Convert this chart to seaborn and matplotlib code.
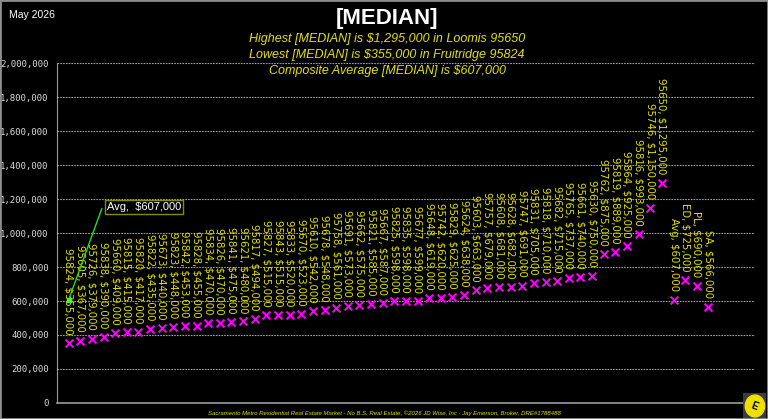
import matplotlib
matplotlib.use('Agg')
import matplotlib.pyplot as plt
import seaborn as sns
import pandas as pd
from matplotlib.patches import Rectangle, Circle

# data
zips = ['95824', '95605', '95726', '95838', '95660', '95815', '95820', '95822', '95673', '95823',
        '95842', '95828', '95834', '95826', '95841', '95621', '95817', '95827', '95843', '95833',
        '95670', '95610', '95678', '95758', '95691', '95662', '95821', '95667', '95825', '95835',
        '95677', '95648', '95742', '95829', '95624', '95603', '95757', '95608', '95628', '95747',
        '95831', '95818', '95682', '95765', '95661', '95630', '95762', '95819', '95864', '95816',
        '95746', '95650', 'Avg', 'ED', 'PL', 'SA']
medians = [355000, 367000, 379000, 390000, 409000, 415000, 417000, 435000, 440000, 448000,
           453000, 455000, 470000, 470000, 475000, 480000, 494000, 515000, 515000, 520000,
           523000, 542000, 548000, 561000, 573000, 575000, 585000, 587000, 598000, 598000,
           599000, 619000, 620000, 625000, 638000, 663000, 679000, 681000, 682000, 691000,
           705000, 710000, 715000, 737000, 740000, 750000, 875000, 889000, 925000, 993000,
           1150000, 1295000, 607000, 725000, 690000, 566000]
avg_value = 607000
y_ticks = [0, 200000, 400000, 600000, 800000, 1000000, 1200000, 1400000, 1600000, 1800000, 2000000]

df = pd.DataFrame({'zip': zips, 'median': medians})
df['pos'] = range(1, len(df) + 1)

sns.set_style('dark', {'axes.facecolor': 'black', 'figure.facecolor': 'black',
                       'axes.edgecolor': '#9a9a9a'})
plt.rcParams['font.family'] = ['Liberation Sans', 'DejaVu Sans']

fig = plt.figure(figsize=(7.68, 4.19), dpi=100)
fig.patch.set_facecolor('black')
ax = fig.add_axes([0.0742, 0.0382, 0.9088, 0.8114])
ax.set_facecolor('black')

sns.scatterplot(data=df, x='pos', y='median', marker='x', color='#ff00ff', s=32,
                linewidth=1.4, ax=ax, zorder=3)

yellow = '#e3e300'
for _, r in df.iterrows():
    lab = r['zip'] + ', ' + '${:,.0f}'.format(r['median'])
    ax.annotate(lab, xy=(r['pos'], r['median']), xytext=(0, 6), textcoords='offset points',
                rotation=270, ha='center', va='bottom', color=yellow, fontsize=7.3,
                family='DejaVu Sans', zorder=4)

# average callout
ax.plot([1], [avg_value], marker='s', color='#33ff33', ms=3, zorder=5)
ax.annotate('Avg,  ${:,.0f}'.format(avg_value), xy=(1, avg_value), xytext=(4.3, 1153000),
            textcoords='data', ha='left', va='center', color='white', fontsize=8,
            bbox=dict(boxstyle='square,pad=0.2', fc='black', ec='#8a8a00', lw=1),
            arrowprops=dict(arrowstyle='-', color='#22dd22', lw=1,
                            connectionstyle='angle,angleA=0,angleB=70,rad=0'),
            zorder=5)

ax.set_xlim(0, 60)
ax.set_ylim(0, 2000000)
ax.set_xticks([0, 10, 20, 30, 40, 50, 60])
ax.set_xticklabels([])
ax.set_yticks(y_ticks)
ax.set_yticklabels(['{:,}'.format(v) for v in y_ticks])
ax.tick_params(axis='y', length=4, color='#9a9a9a', pad=2, labelsize=6.5,
               labelcolor='#dcdcdc', labelfontfamily='DejaVu Sans Mono')
ax.tick_params(axis='x', length=3, color='#9a9a9a', direction='in')
ax.set_xlabel('')
ax.set_ylabel('')
ax.grid(axis='y', color='#a0a0a0', linestyle=(0, (1.5, 1)), linewidth=0.8)
ax.grid(axis='x', visible=False)
for s in ['top', 'right']:
    ax.spines[s].set_visible(False)
ax.spines['left'].set_color('#9a9a9a')
ax.spines['bottom'].set_color('#9a9a9a')
ax.spines['bottom'].set_linewidth(1.2)
ax.spines['left'].set_linewidth(0.8)

# titles
fig.text(0.504, 0.955, '[MEDIAN]', color='white', fontsize=16, weight='bold',
         ha='center', va='center')
subs = ['Highest [MEDIAN] is $1,295,000 in Loomis 95650',
        'Lowest [MEDIAN] is $355,000 in Fruitridge 95824',
        'Composite Average [MEDIAN] is $607,000']
for i, s in enumerate(subs):
    fig.text(0.504, 0.907 - i * 0.038, s, color=yellow, fontsize=9, style='italic',
             ha='center', va='center')
fig.text(0.012, 0.965, 'May 2026', color='white', fontsize=7.5, ha='left', va='center')
fig.text(0.5, 0.015, 'Sacramento Metro Residential Real Estate Market - No B.S. Real Estate, '
         '\u00a92026 JD Wise, Inc - Jay Emerson, Broker, DRE#1788488',
         color=yellow, fontsize=4.3, style='italic', ha='center', va='center')

# logo
lax = fig.add_axes([0.968, 0.0, 0.03, 0.062])
lax.set_xlim(0, 1)
lax.set_ylim(0, 1)
lax.axis('off')
lax.add_patch(Rectangle((0, 0), 1, 1, color='#3c3c3c'))
lax.add_patch(Circle((0.5, 0.5), 0.42, color='#f0e000'))
lax.text(0.5, 0.5, 'E', color='black', fontsize=7, weight='bold', ha='center', va='center',
         rotation=-20)

# frame
fig.patches.append(Rectangle((0, 0), 1, 1, transform=fig.transFigure, fill=False,
                             edgecolor='#8c8c8c', lw=2))

fig.savefig('out.png', dpi=100, facecolor='black')
